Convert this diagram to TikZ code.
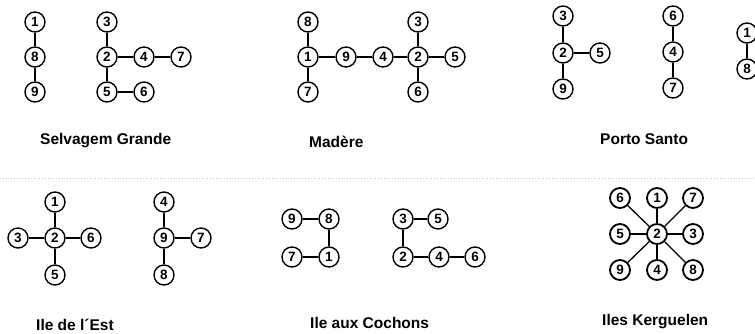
\documentclass[tikz,border=0pt]{standalone}
\usepackage{fontspec}
\setmainfont{Liberation Sans}
\begin{document}
\begin{tikzpicture}[x=1pt,y=-1pt,
  nd/.style={circle,draw,line width=1.4pt,minimum size=20pt,inner sep=0pt,font=\fontsize{13.5}{14}\selectfont\bfseries},
  ndk/.style={nd,line width=1.8pt},
  ed/.style={line width=1.3pt},
  lab/.style={anchor=west,inner sep=0pt,font=\fontsize{15.5}{16}\selectfont\bfseries}]
\useasboundingbox (0,0) rectangle (755,333);
\clip (0,0) rectangle (755,333);
% faint dotted separator
\coordinate (sepL) at (0,178);
\coordinate (sepR) at (755,178);
\draw[gray!45,dotted,line width=0.8pt] (sepL) -- (sepR);

% Selvagem Grande
\node[nd] (a1) at (35,22) {1};
\node[nd] (a8) at (35,57) {8};
\node[nd] (a9) at (35,92) {9};
\draw[ed] (a1) -- (a8) (a8) -- (a9);
\node[nd] (b3) at (107,22) {3};
\node[nd] (b2) at (107,57) {2};
\node[nd] (b4) at (144,57) {4};
\node[nd] (b7) at (181,57) {7};
\node[nd] (b5) at (107,92) {5};
\node[nd] (b6) at (144,92) {6};
\draw[ed] (b3) -- (b2) (b2) -- (b4) (b4) -- (b7) (b2) -- (b5) (b5) -- (b6);
\node[lab] (t1) at (40,141) {Selvagem Grande};

% Madere
\node[nd] (c8) at (308,22) {8};
\node[nd] (c1) at (308,57) {1};
\node[nd] (c7) at (308,92) {7};
\node[nd] (c9) at (346,57) {9};
\node[nd] (c4) at (383,57) {4};
\node[nd] (c2) at (418,57) {2};
\node[nd] (c3) at (418,22) {3};
\node[nd] (c6) at (418,92) {6};
\node[nd] (c5) at (455,57) {5};
\draw[ed] (c8) -- (c1) (c1) -- (c7) (c1) -- (c9) (c9) -- (c4) (c4) -- (c2)
  (c2) -- (c3) (c2) -- (c6) (c2) -- (c5);
\node[lab] (t2) at (309,142) {Madère};

% Porto Santo
\node[nd] (d3) at (563,16) {3};
\node[nd] (d2) at (563,53) {2};
\node[nd] (d9) at (563,89) {9};
\node[nd] (d5) at (600,53) {5};
\draw[ed] (d3) -- (d2) (d2) -- (d9) (d2) -- (d5);
\node[nd] (e6) at (673,16) {6};
\node[nd] (e4) at (673,52) {4};
\node[nd] (e7) at (673,88) {7};
\draw[ed] (e6) -- (e4) (e4) -- (e7);
\node[nd] (f1) at (747,33) {1};
\node[nd] (f8) at (747,69) {8};
\draw[ed] (f1) -- (f8);
\node[lab] (t3) at (600,139) {Porto Santo};

% Ile de l'Est
\node[nd] (g1) at (55,202) {1};
\node[nd] (g2) at (55,238) {2};
\node[nd] (g3) at (18,238) {3};
\node[nd] (g6) at (91,238) {6};
\node[nd] (g5) at (55,275) {5};
\draw[ed] (g1) -- (g2) (g3) -- (g2) (g2) -- (g6) (g2) -- (g5);
\node[nd] (h4) at (164,202) {4};
\node[nd] (h9) at (164,238) {9};
\node[nd] (h7) at (201,238) {7};
\node[nd] (h8) at (164,275) {8};
\draw[ed] (h4) -- (h9) (h9) -- (h7) (h9) -- (h8);
\node[lab] (t4) at (36,325) {Ile de l´Est};

% Ile aux Cochons
\node[nd] (i9) at (292,219) {9};
\node[nd] (i8) at (329,219) {8};
\node[nd] (i7) at (292,257) {7};
\node[nd] (i1) at (329,257) {1};
\draw[ed] (i9) -- (i8) (i8) -- (i1) (i7) -- (i1);
\node[nd] (j3) at (403,219) {3};
\node[nd] (j5) at (438,219) {5};
\node[nd] (j2) at (403,257) {2};
\node[nd] (j4) at (439,257) {4};
\node[nd] (j6) at (475,257) {6};
\draw[ed] (j3) -- (j5) (j3) -- (j2) (j2) -- (j4) (j4) -- (j6);
\node[lab] (t5) at (310,323) {Ile aux Cochons};

% Iles Kerguelen
\node[ndk] (k2) at (657,234) {2};
\node[ndk] (k6) at (620,198) {6};
\node[ndk] (k1) at (657,198) {1};
\node[ndk] (k7) at (693,198) {7};
\node[ndk] (k5) at (620,234) {5};
\node[ndk] (k3) at (693,234) {3};
\node[ndk] (k9) at (620,270) {9};
\node[ndk] (k4) at (657,270) {4};
\node[ndk] (k8) at (693,270) {8};
\foreach \o in {k6,k1,k7,k5,k3,k9,k4,k8} \draw[ed] (k2) -- (\o);
\node[lab] (t6) at (602,322) {Iles Kerguelen};
\end{tikzpicture}
\end{document}
